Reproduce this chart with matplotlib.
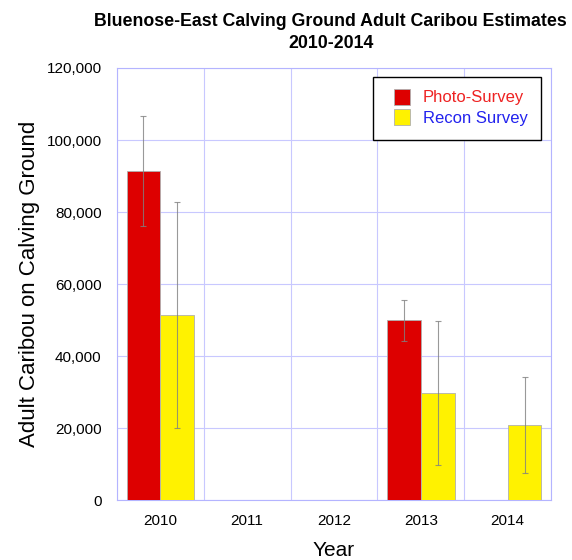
import numpy as np
import matplotlib.pyplot as plt
from matplotlib.lines import Line2D
from matplotlib.ticker import FuncFormatter

plt.rcParams['font.family'] = ['Liberation Sans', 'DejaVu Sans']

years = ['2010', '2011', '2012', '2013', '2014']
photo = [91400, np.nan, np.nan, 50000, np.nan]
photo_err = [15300, np.nan, np.nan, 5700, np.nan]
recon = [51400, np.nan, np.nan, 29800, 20800]
recon_err = [31400, np.nan, np.nan, 20000, 13400]

fig = plt.figure(figsize=(5.72, 5.6), dpi=100)
ax = fig.add_axes([0.2045, 0.107, 0.7588, 0.7716])

x = np.arange(len(years))
w = 0.39
ax.bar(x - w / 2, photo, w, color='#dd0000', edgecolor='#b0b0b0', linewidth=0.6, zorder=3)
ax.bar(x + w / 2, recon, w, color='#fff200', edgecolor='#b0b0b0', linewidth=0.6, zorder=3)
ax.errorbar(x - w / 2, photo, yerr=photo_err, fmt='none', ecolor='#808080',
            elinewidth=0.8, capsize=2.5, capthick=0.8, alpha=0.8, zorder=4)
ax.errorbar(x + w / 2, recon, yerr=recon_err, fmt='none', ecolor='#808080',
            elinewidth=0.8, capsize=2.5, capthick=0.8, alpha=0.8, zorder=4)

ax.set_xlim(-0.5, 4.5)
ax.set_ylim(0, 120000)
ax.set_yticks(np.arange(0, 120001, 20000))
ax.yaxis.set_major_formatter(FuncFormatter(lambda v, p: f'{int(v):,}'))
ax.set_xticks(x)
ax.set_xticklabels(years)
ax.set_xticks(np.arange(-0.5, 4.6, 1), minor=True)
ax.grid(True, axis='y', which='major', color='#c8c8ff', linewidth=0.8, zorder=0)
ax.grid(True, axis='x', which='minor', color='#c8c8ff', linewidth=0.8, zorder=0)
ax.tick_params(axis='x', which='both', length=0, labelsize=11, pad=10)
ax.tick_params(axis='y', length=0, labelsize=11, pad=11)
for s in ax.spines.values():
    s.set_color('#b4b4ff')
    s.set_linewidth(0.8)

ax.set_xlabel('Year', fontsize=15)
ax.xaxis.set_label_coords(0.5, -0.094)
ax.set_ylabel('Adult Caribou on Calving Ground', fontsize=16)
ax.yaxis.set_label_coords(-0.177, 0.5)

fig.text(0.578, 1 - 21 / 560, 'Bluenose-East Calving Ground Adult Caribou Estimates',
         ha='center', va='center', fontsize=12.8, fontweight='bold')
fig.text(0.578, 1 - 44 / 560, '2010-2014',
         ha='center', va='center', fontsize=12.8, fontweight='bold')

handles = [Line2D([], [], ls='none', marker='s', markersize=11,
                  markerfacecolor='#dd0000', markeredgecolor='#b0b0b0', markeredgewidth=0.6),
           Line2D([], [], ls='none', marker='s', markersize=11,
                  markerfacecolor='#fff200', markeredgecolor='#b0b0b0', markeredgewidth=0.6)]
leg = ax.legend(handles, ['Photo-Survey', 'Recon Survey'], loc='upper right',
                bbox_to_anchor=(0.977, 0.979), fontsize=12, fancybox=False,
                framealpha=1, edgecolor='black', handlelength=1.9,
                borderpad=0.8, handletextpad=0.3, borderaxespad=0, labelspacing=0.35)
leg.get_frame().set_linewidth(1.0)
leg.get_texts()[0].set_color('#ee2222')
leg.get_texts()[1].set_color('#2222ee')

fig.savefig('out.png', dpi=100)
